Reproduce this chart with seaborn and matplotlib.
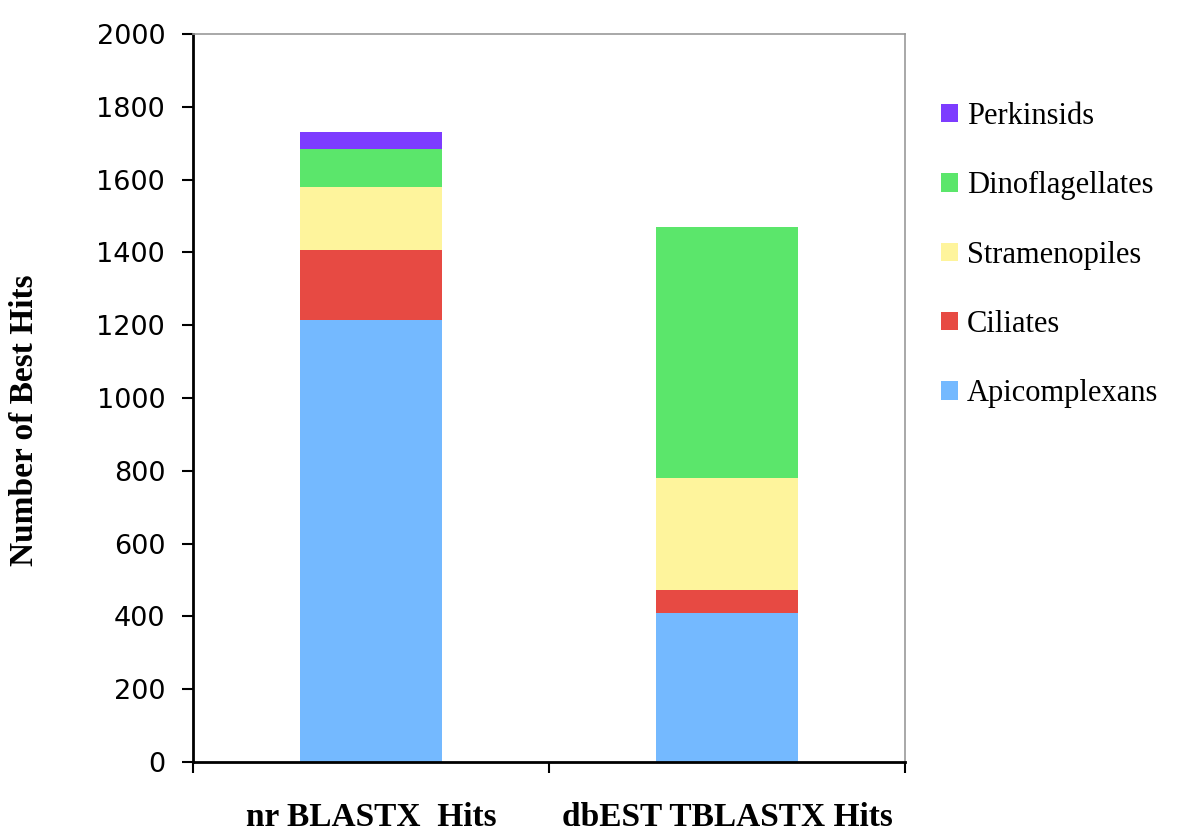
import matplotlib
matplotlib.use("Agg")
import matplotlib.pyplot as plt
import seaborn as sns
import pandas as pd
import numpy as np
from matplotlib.patches import Patch

# data
kategorie = ["nr BLASTX  Hits", "dbEST TBLASTX Hits"]
grupy = ["Apicomplexans", "Ciliates", "Stramenopiles", "Dinoflagellates", "Perkinsids"]
apicomplexans = [1215, 408]
ciliates = [192, 64]
stramenopiles = [172, 307]
dinoflagellates = [105, 690]
perkinsids = [48, 0]
kolory = ["#74B9FF", "#E74A43", "#FEF49C", "#5BE66B", "#7D3CFF"]

wartosci = [apicomplexans, ciliates, stramenopiles, dinoflagellates, perkinsids]

sns.set_style("white")
plt.rcParams['font.family'] = ['DejaVu Sans']

fig = plt.figure(figsize=(12, 8.34), dpi=100)
ax = fig.add_axes([193/1200, 1-762/834, (905-193)/1200, (762-34)/834])

spod = np.zeros(len(kategorie))
for g, v, k in zip(grupy, wartosci, kolory):
    df = pd.DataFrame({"kat": kategorie, "v": v})
    sns.barplot(data=df, x="kat", y="v", color=k, width=0.4, bottom=spod,
                ax=ax, saturation=1, linewidth=0, order=kategorie)
    spod = spod + np.array(v)

ax.set_xlim(-0.5, 1.5)
ax.set_ylim(0, 2000)
ax.set_yticks(range(0, 2001, 200))
ax.tick_params(axis='y', labelsize=19.5, colors='black', direction='out', length=8, width=1.5, left=True, pad=12)

# granice kategorii jako ticki, podpisy na srodku
ax.set_xticks([-0.5, 0.5, 1.5])
ax.set_xticklabels(["", "", ""])
ax.tick_params(axis='x', colors='black', direction='out', length=8, width=1.5, bottom=True)
for i, kat in enumerate(kategorie):
    ax.text(i, -0.076, kat, transform=ax.get_xaxis_transform(), ha='center', va='center',
            fontsize=24, fontweight='bold', family='Liberation Serif', color='black')

ax.set_xlabel("")
ax.set_ylabel("Number of Best Hits", fontsize=24, fontweight='bold', family='Liberation Serif', color='black')
ax.yaxis.set_label_coords((40-193)/712, (762-420)/728)

for s in ['left', 'bottom']:
    ax.spines[s].set_color('black')
    ax.spines[s].set_linewidth(2)
for s in ['top', 'right']:
    ax.spines[s].set_color('#999999')
    ax.spines[s].set_linewidth(1.2)

uchwyty = [Patch(facecolor=k, edgecolor='none', label=g) for g, k in zip(grupy, kolory)][::-1]
leg = fig.legend(handles=uchwyty, loc='upper left', bbox_to_anchor=(941/1200, 1-102/834),
                 frameon=False, handlelength=0.55, handleheight=0.55, handletextpad=0.3,
                 labelspacing=1.32, borderpad=0, borderaxespad=0,
                 prop={'family': 'Liberation Serif', 'size': 22})
for t in leg.get_texts():
    t.set_color('black')

fig.savefig("out.png", dpi=100)
